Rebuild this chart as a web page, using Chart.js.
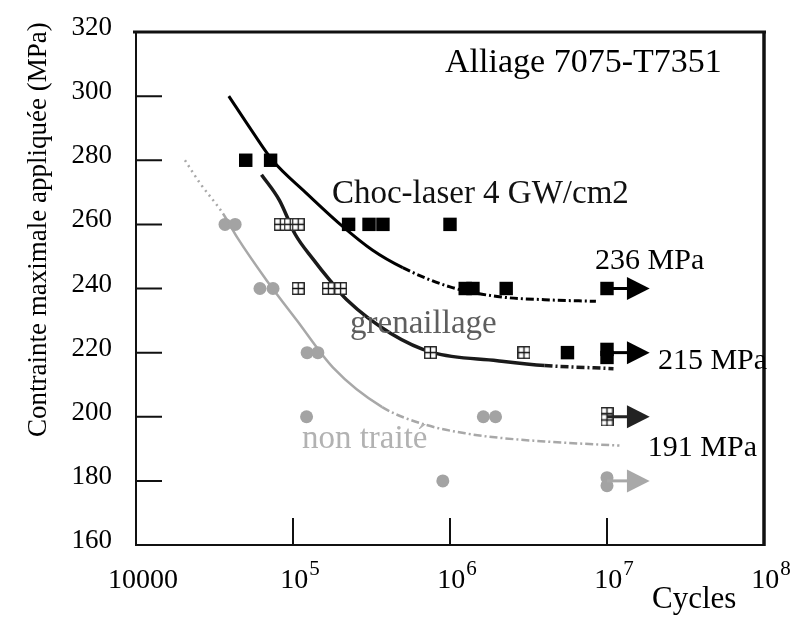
<!DOCTYPE html>
<html>
<head>
<meta charset="utf-8">
<title>Alliage 7075-T7351</title>
<script src="https://cdn.jsdelivr.net/npm/chart.js@4.4.1/dist/chart.umd.min.js"></script>
<style>
  html, body { margin: 0; padding: 0; background: #fff; }
  #wrap { width: 800px; height: 619px; }
</style>
</head>
<body>
<div id="wrap"><canvas id="wohlerChart" width="800" height="619"></canvas></div>
<script>
// Axes
const cycleTicks = [1e4, 1e5, 1e6, 1e7, 1e8];
const stressTicks = [160, 180, 200, 220, 240, 260, 280, 300, 320];

// Limites d'endurance (MPa)
const laserLimit = 236;
const shotLimit = 215;
const rawLimit = 191;

// Essais : choc-laser 4 GW/cm2
const laserCycles = [5.0e4, 7.2e4, 2.26e5, 3.05e5, 3.74e5, 1.0e6, 1.25e6, 1.4e6, 2.28e6, 1.0e7, 5.6e6, 1.0e7, 1.0e7];
const laserStress = [280, 280, 260, 260, 260, 260, 240, 240, 240, 240, 220, 221, 218.5];

// Essais : grenaillage
const shotCycles = [8.3e4, 9.6e4, 1.08e5, 1.08e5, 1.68e5, 2.01e5, 7.5e5, 2.96e6, 1.0e7, 1.0e7];
const shotStress = [260, 260, 260, 240, 240, 240, 220, 220, 201, 199];

// Essais : non traité
const rawCycles = [3.69e4, 4.28e4, 6.16e4, 7.46e4, 1.23e5, 1.44e5, 1.22e5, 1.63e6, 1.95e6, 9.0e5, 1.0e7, 1.0e7];
const rawStress = [260, 260, 240, 240, 220, 220, 200, 200, 200, 180, 181, 178.5];

// Courbes de Wöhler
const laserCurveCycles = [3.9e4, 5.5e4, 7.4e4, 1.2e5, 2.0e5, 3.2e5, 5.0e5, 1.0e6, 2.0e6, 4.0e6, 8.5e6];
const laserCurveStress = [300, 289, 280, 270, 260, 252, 246.5, 240.5, 237.5, 236.5, laserLimit];
const shotCurveCycles = [6.3e4, 8.2e4, 1.03e5, 1.35e5, 1.72e5, 2.2e5, 4.2e5, 7.8e5, 2.0e6, 4.0e6, 1.1e7];
const shotCurveStress = [275.5, 267.5, 257, 249, 242.5, 236.5, 226, 220, 217.5, 216, shotLimit];
const rawCurveCycles = [2.05e4, 2.56e4, 3.58e4, 4.4e4, 6.8e4, 1.06e5, 1.8e5, 3.7e5, 7.0e5, 1.3e6, 2.1e6, 4.0e6, 1.2e7];
const rawCurveStress = [280, 272.8, 263.4, 256, 242.5, 230, 215.3, 203, 197.5, 194.7, 193.4, 192.3, rawLimit];

// Essais non rompus (flèches)
const runoutStress = [240, 220, 200, 180];
const runoutColors = ['#000', '#000', '#222', '#a8a8a8'];
const runoutStart = 1e7;

function toPoints(xs, ys) {
  return xs.map((x, i) => ({ x: x, y: ys[i] }));
}

// marqueur carré quadrillé pour le grenaillage
function gridSquare() {
  const c = document.createElement('canvas');
  c.width = 13; c.height = 13;
  const g = c.getContext('2d');
  g.fillStyle = '#fff';
  g.fillRect(0, 0, 13, 13);
  g.strokeStyle = '#111';
  g.lineWidth = 1.3;
  g.strokeRect(0.75, 0.75, 11.5, 11.5);
  g.beginPath();
  g.moveTo(6.5, 1); g.lineTo(6.5, 12);
  g.moveTo(1, 6.5); g.lineTo(12, 6.5);
  g.stroke();
  return c;
}

const dashDot = [8, 3, 2, 3];

const frame = {
  id: 'frame',
  beforeDatasetsDraw(chart) {
    const ctx = chart.ctx;
    const a = chart.chartArea;
    const xs = chart.scales.x, ys = chart.scales.y;
    ctx.save();
    ctx.strokeStyle = '#111';
    ctx.lineCap = 'butt';
    // cadre
    ctx.lineWidth = 2;
    ctx.beginPath();
    ctx.moveTo(a.left, a.top); ctx.lineTo(a.left, a.bottom); ctx.lineTo(a.right, a.bottom);
    ctx.stroke();
    ctx.lineWidth = 3;
    ctx.beginPath();
    ctx.moveTo(a.left - 3, a.top); ctx.lineTo(a.right + 2, a.top);
    ctx.stroke();
    ctx.lineWidth = 3.5;
    ctx.beginPath();
    ctx.moveTo(a.right, a.top); ctx.lineTo(a.right, a.bottom + 1);
    ctx.stroke();
    // graduations intérieures
    ctx.lineWidth = 2;
    ctx.beginPath();
    ys.ticks.forEach(t => {
      if (t.value <= ys.min || t.value >= ys.max) return;
      const py = ys.getPixelForValue(t.value);
      ctx.moveTo(a.left, py); ctx.lineTo(a.left + 26, py);
    });
    xs.ticks.forEach(t => {
      if (t.value <= xs.min || t.value >= xs.max) return;
      const px = xs.getPixelForValue(t.value);
      ctx.moveTo(px, a.bottom); ctx.lineTo(px, a.bottom - 27);
    });
    ctx.stroke();
    ctx.restore();
  },
  afterDatasetsDraw(chart) {
    const ctx = chart.ctx;
    const xs = chart.scales.x, ys = chart.scales.y;
    const x0 = xs.getPixelForValue(runoutStart);
    const xHead = xs.getPixelForValue(runoutStart * 1.34);
    const xTip = xs.getPixelForValue(runoutStart * 1.87);
    ctx.save();
    runoutStress.forEach((s, i) => {
      const py = ys.getPixelForValue(s);
      ctx.strokeStyle = runoutColors[i];
      ctx.fillStyle = runoutColors[i];
      ctx.lineWidth = 3;
      ctx.beginPath();
      ctx.moveTo(x0, py); ctx.lineTo(xHead + 2, py);
      ctx.stroke();
      ctx.beginPath();
      ctx.moveTo(xHead, py - 11.5);
      ctx.lineTo(xTip, py);
      ctx.lineTo(xHead, py + 11.5);
      ctx.closePath();
      ctx.fill();
    });
    ctx.restore();
  },
  afterDraw(chart) {
    const ctx = chart.ctx;
    const a = chart.chartArea;
    const xs = chart.scales.x, ys = chart.scales.y;
    const serif = '"Liberation Serif", "Times New Roman", serif';
    ctx.save();
    ctx.fillStyle = '#000';
    ctx.textBaseline = 'alphabetic';

    // valeurs de l'axe des contraintes
    ctx.font = '27px ' + serif;
    ctx.textAlign = 'right';
    ys.ticks.forEach(t => {
      ctx.fillText(String(t.value), a.left - 24, ys.getPixelForValue(t.value) + 3);
    });

    // valeurs de l'axe des cycles : 10000 puis 10^n
    xs.ticks.forEach(t => {
      const px = xs.getPixelForValue(t.value) + 7;
      const base = a.bottom + 43;
      const exp = Math.round(Math.log10(t.value));
      ctx.textAlign = 'left';
      if (exp === 4) {
        ctx.font = '28px ' + serif;
        const w = ctx.measureText('10000').width;
        ctx.fillText('10000', px - w / 2, base);
      } else {
        ctx.font = '28px ' + serif;
        const w1 = ctx.measureText('10').width;
        ctx.font = '21px ' + serif;
        const w2 = ctx.measureText(String(exp)).width;
        const left = px - (w1 + w2 + 1) / 2;
        ctx.font = '28px ' + serif;
        ctx.fillText('10', left, base);
        ctx.font = '21px ' + serif;
        ctx.fillText(String(exp), left + w1 + 1, base - 13);
      }
    });

    // titres des axes
    ctx.font = '31px ' + serif;
    ctx.textAlign = 'left';
    ctx.fillText('Cycles', a.right - 112, a.bottom + 63);
    ctx.save();
    ctx.translate(46, 437);
    ctx.rotate(-Math.PI / 2);
    ctx.font = '27px ' + serif;
    ctx.fillText('Contrainte maximale appliquée (MPa)', 0, 0);
    ctx.restore();

    // annotations
    const put = (text, cx, sy, size, color) => {
      ctx.font = size + 'px ' + serif;
      ctx.fillStyle = color;
      ctx.textAlign = 'left';
      ctx.fillText(text, xs.getPixelForValue(cx), ys.getPixelForValue(sy));
    };
    put('Alliage 7075-T7351', 9.3e5, 307.5, 34, '#000');
    put('Choc-laser 4 GW/cm2', 1.77e5, 266.6, 33, '#111');
    put('grenaillage', 2.31e5, 226.2, 33, '#5e5e5e');
    put('non traité', 1.14e5, 190.3, 33, '#b2b2b2');
    put(laserLimit + ' MPa', 8.4e6, 246.2, 30, '#000');
    put(shotLimit + ' MPa', 2.11e7, 215, 30, '#000');
    put(rawLimit + ' MPa', 1.82e7, 187.8, 30, '#000');
    ctx.restore();
  }
};

const ctx = document.getElementById('wohlerChart').getContext('2d');
new Chart(ctx, {
  type: 'scatter',
  data: {
    datasets: [
      {
        label: 'Choc-laser 4 GW/cm2',
        data: toPoints(laserCycles, laserStress),
        pointStyle: 'rect',
        pointRadius: 9.5,
        backgroundColor: '#000',
        borderWidth: 0
      },
      {
        label: 'grenaillage',
        data: toPoints(shotCycles, shotStress),
        pointStyle: gridSquare(),
        pointRadius: 6.5
      },
      {
        label: 'non traité',
        data: toPoints(rawCycles, rawStress),
        pointStyle: 'circle',
        pointRadius: 6.5,
        backgroundColor: '#a3a3a3',
        borderWidth: 0
      },
      {
        label: 'courbe choc-laser',
        data: toPoints(laserCurveCycles, laserCurveStress),
        showLine: true,
        pointRadius: 0,
        borderColor: '#000',
        borderWidth: 3,
        cubicInterpolationMode: 'monotone',
        segment: { borderDash: c => c.p0.parsed.x >= 5e5 ? dashDot : undefined }
      },
      {
        label: 'courbe grenaillage',
        data: toPoints(shotCurveCycles, shotCurveStress),
        showLine: true,
        pointRadius: 0,
        borderColor: '#1a1a1a',
        borderWidth: 3.5,
        cubicInterpolationMode: 'monotone',
        segment: { borderDash: c => c.p0.parsed.x >= 2.9e6 ? dashDot : undefined }
      },
      {
        label: 'courbe non traité',
        data: toPoints(rawCurveCycles, rawCurveStress),
        showLine: true,
        pointRadius: 0,
        borderColor: '#a8a8a8',
        borderWidth: 2.5,
        cubicInterpolationMode: 'monotone',
        segment: {
          borderDash: c => c.p0.parsed.x < 3.5e4 ? [2, 4] : (c.p0.parsed.x >= 3.0e5 ? dashDot : undefined)
        }
      }
    ]
  },
  options: {
    responsive: false,
    animation: false,
    layout: { padding: { left: 136, top: 32, right: 36, bottom: 74 } },
    plugins: { legend: { display: false }, tooltip: { enabled: false } },
    scales: {
      x: {
        type: 'logarithmic',
        min: cycleTicks[0],
        max: cycleTicks[cycleTicks.length - 1],
        afterBuildTicks: s => { s.ticks = cycleTicks.map(v => ({ value: v })); },
        afterFit: s => { s.height = 0; },
        ticks: { display: false },
        grid: { display: false },
        border: { display: false }
      },
      y: {
        type: 'linear',
        min: stressTicks[0],
        max: stressTicks[stressTicks.length - 1],
        afterBuildTicks: s => { s.ticks = stressTicks.map(v => ({ value: v })); },
        afterFit: s => { s.width = 0; },
        ticks: { display: false },
        grid: { display: false },
        border: { display: false }
      }
    }
  },
  plugins: [frame]
});
</script>
</body>
</html>
